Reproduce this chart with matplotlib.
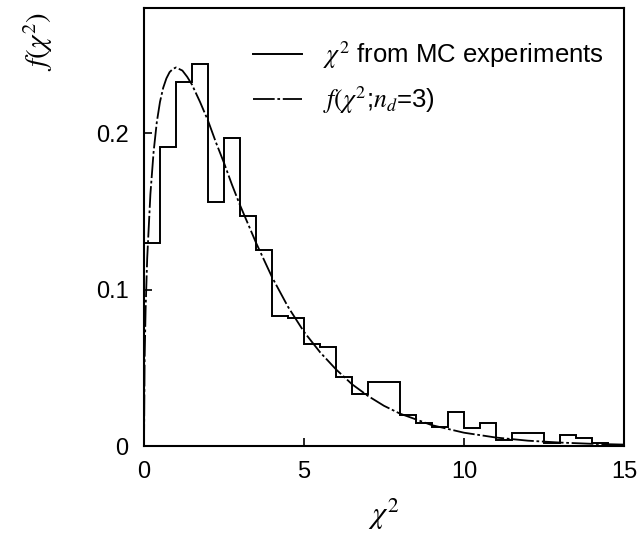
import matplotlib
matplotlib.use("Agg")
import matplotlib.pyplot as plt
import numpy as np

plt.rcParams['font.family'] = ['Liberation Sans', 'DejaVu Sans']
plt.rcParams['mathtext.fontset'] = 'stix'

# histogram of chi2 from MC experiments (bin edges, bin heights)
bin_edges = [0.0, 0.5, 1.0, 1.5, 2.0, 2.5, 3.0, 3.5, 4.0, 4.5, 5.0,
             5.5, 6.0, 6.5, 7.0, 7.5, 8.0, 8.5, 9.0, 9.5, 10.0,
             10.5, 11.0, 11.5, 12.0, 12.5, 13.0, 13.5, 14.0, 14.5, 15.0]
mc_counts = [0.130, 0.191, 0.233, 0.244, 0.156, 0.197, 0.147, 0.125, 0.083, 0.082,
             0.065, 0.063, 0.044, 0.033, 0.041, 0.041, 0.020, 0.015, 0.012, 0.022,
             0.0115, 0.015, 0.004, 0.0085, 0.0085, 0.002, 0.007, 0.005, 0.002, 0.0005]

# f(chi2; nd=3) curve
curve_x = [0.0, 0.02, 0.05, 0.1, 0.2, 0.3, 0.4, 0.5, 0.6, 0.7, 0.8, 0.9, 1.0, 1.1, 1.2,
           1.35, 1.5, 1.75, 2.0, 2.25, 2.5, 2.75, 3.0, 3.5, 4.0, 4.5, 5.0, 5.5, 6.0,
           6.5, 7.0, 7.5, 8.0, 9.0, 10.0, 11.0, 12.0, 13.0, 14.0, 15.0]
curve_y = [0.0, 0.056, 0.087, 0.120, 0.161, 0.188, 0.207, 0.220, 0.229, 0.235, 0.239,
           0.241, 0.242, 0.241, 0.240, 0.236, 0.231, 0.220, 0.208, 0.194, 0.181,
           0.167, 0.154, 0.130, 0.108, 0.089, 0.073, 0.060, 0.049, 0.0395, 0.032,
           0.0257, 0.0207, 0.0133, 0.0085, 0.0054, 0.0034, 0.0022, 0.0014, 0.0009]

fig = plt.figure(figsize=(6.38, 5.41), dpi=100)
ax = fig.add_axes([0.2257, 0.1756, 0.7523, 0.8096])

ax.stairs(mc_counts, bin_edges, color='black', linewidth=1.4,
          label=r'$\chi^2$ from MC experiments')
ax.plot(curve_x, curve_y, color='black', linewidth=1.3,
        linestyle=(0, (12, 1.5, 1.5, 1.5)),
        label=r'$f(\chi^2$;$n_d$=3)')

ax.set_xlim(0, 15)
ax.set_ylim(0, 0.28)
ax.set_xticks([0, 5, 10, 15])
ax.set_yticks([0, 0.1, 0.2])
ax.set_xticklabels(['0', '5', '10', '15'])
ax.set_yticklabels(['0', '0.1', '0.2'])
ax.tick_params(direction='in', length=6, width=1.2, labelsize=17, pad=11)
for s in ax.spines.values():
    s.set_linewidth(1.5)

ax.set_xlabel(r'$\chi^2$', fontsize=22)
ax.xaxis.set_label_coords(0.5, -0.115)
ax.set_ylabel(r'$f(\chi^2)$', fontsize=21, loc='top')
ax.yaxis.set_label_coords(-0.185, 0.99)

ax.legend(loc='upper right', bbox_to_anchor=(1.0, 0.975), frameon=False,
          fontsize=18.5, handlelength=1.9, handletextpad=0.8,
          labelspacing=0.5, borderaxespad=0.4)

fig.savefig('out.png', dpi=100)
